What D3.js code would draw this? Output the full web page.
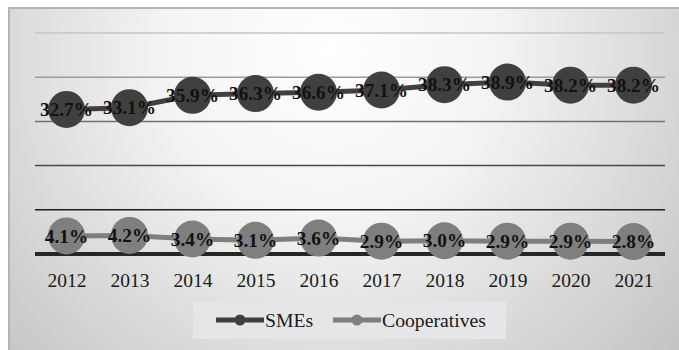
<!DOCTYPE html>
<html>
<head>
<meta charset="utf-8">
<script src="https://cdn.jsdelivr.net/npm/d3@7/dist/d3.min.js"></script>
<style>
  html, body { margin: 0; padding: 0; background: #fff; }
  svg { display: block; }
  svg text { font-family: "Liberation Serif", "Times New Roman", serif; }
</style>
</head>
<body>
<svg id="chart" width="679" height="350"></svg>
<script>
// Share of SMEs and cooperatives, 2012–2021 (%)
const years = ["2012","2013","2014","2015","2016","2017","2018","2019","2020","2021"];
const smes = [32.7, 33.1, 35.9, 36.3, 36.6, 37.1, 38.3, 38.9, 38.2, 38.2];
const cooperatives = [4.1, 4.2, 3.4, 3.1, 3.6, 2.9, 3.0, 2.9, 2.9, 2.8];
const gridTicks = [0, 10, 20, 30, 40, 50];
const seriesNames = ["SMEs", "Cooperatives"];

const W = 679, H = 350;
const svg = d3.select("#chart");
const font = "Liberation Serif";

// background panel with soft radial shading
const defs = svg.append("defs");
const grad = defs.append("radialGradient")
  .attr("id", "bg").attr("gradientUnits", "userSpaceOnUse")
  .attr("cx", 330).attr("cy", 50).attr("r", 470);
grad.append("stop").attr("offset", "0").attr("stop-color", "#ffffff");
grad.append("stop").attr("offset", "0.35").attr("stop-color", "#f4f4f4");
grad.append("stop").attr("offset", "1").attr("stop-color", "#c2c2c2");

svg.append("rect").attr("x", 9).attr("y", 8).attr("width", W).attr("height", H)
  .attr("fill", "url(#bg)").attr("stroke", "#b4b4b4").attr("stroke-width", 2);

const plot = { left: 35, right: 665, top: 33, bottom: 254 };

const x = d3.scalePoint().domain(years).range([plot.left, plot.right]).padding(0.5);
const y = d3.scaleLinear().domain([0, 50]).range([plot.bottom, plot.top]);

// gridlines, darkening toward the baseline
const gridColor = d3.scaleLinear().domain([50, 10]).range(["#c4c4c4", "#1e1e1e"]);
svg.append("g").selectAll("line").data(gridTicks.filter(t => t > 0)).join("line")
  .attr("x1", plot.left).attr("x2", plot.right)
  .attr("y1", d => y(d)).attr("y2", d => y(d))
  .attr("stroke", d => gridColor(d)).attr("stroke-width", 1.5);

// category axis
const xAxis = svg.append("g").attr("transform", `translate(0,${plot.bottom})`)
  .call(d3.axisBottom(x).tickSize(0).tickPadding(19));
xAxis.select(".domain").attr("stroke", "#262626").attr("stroke-width", 4)
  .attr("d", `M${plot.left},0H${plot.right}`);
xAxis.selectAll("text").style("font-family", font).style("font-size", "19.5px")
  .attr("fill", "#1a1a1a");

const series = [
  { name: seriesNames[0], values: smes, color: "#404040" },
  { name: seriesNames[1], values: cooperatives, color: "#7f7f7f" }
];

const line = d3.line().x((d, i) => x(years[i])).y(d => y(d));

series.forEach(s => {
  const g = svg.append("g");
  g.append("path").datum(s.values).attr("d", line)
    .attr("fill", "none").attr("stroke", s.color).attr("stroke-width", 5);
  g.selectAll("circle").data(s.values).join("circle")
    .attr("cx", (d, i) => x(years[i])).attr("cy", d => y(d)).attr("r", 18.5)
    .attr("fill", s.color);
  g.selectAll("text").data(s.values).join("text")
    .attr("x", (d, i) => x(years[i])).attr("y", d => y(d))
    .attr("dy", "0.35em").attr("text-anchor", "middle")
    .style("font-family", font).style("font-weight", "bold").style("font-size", "19.3px")
    .attr("fill", "#111")
    .text(d => d.toFixed(1) + "%");
});

// legend
const lg = svg.append("g");
lg.append("rect").attr("x", 193).attr("y", 302).attr("width", 313).attr("height", 37)
  .attr("fill", "#e6e6e8");
const legendItems = [
  { x: 216, color: series[0].color, name: series[0].name },
  { x: 333, color: series[1].color, name: series[1].name }
];
legendItems.forEach(it => {
  lg.append("line").attr("x1", it.x).attr("x2", it.x + 48)
    .attr("y1", 320).attr("y2", 320)
    .attr("stroke", it.color).attr("stroke-width", 5);
  lg.append("circle").attr("cx", it.x + 24).attr("cy", 320).attr("r", 5.5)
    .attr("fill", it.color);
  lg.append("text").attr("x", it.x + 49).attr("y", 327)
    .style("font-family", font).style("font-size", "19.7px").attr("fill", "#1a1a1a")
    .text(it.name);
});
</script>
</body>
</html>
